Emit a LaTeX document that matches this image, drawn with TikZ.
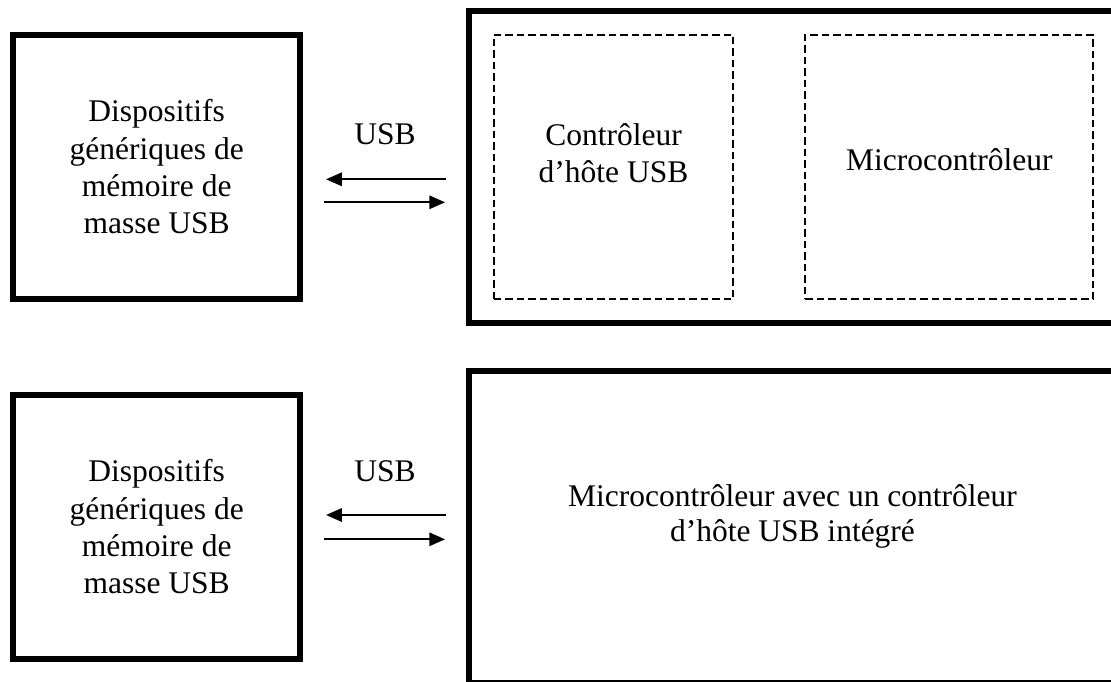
\documentclass[tikz,border=0pt]{standalone}
\usepackage{fontspec}
\setmainfont{Liberation Serif}
\usetikzlibrary{arrows.meta, positioning}

\begin{document}
\begin{tikzpicture}[
        x=1pt, y=-1pt,
        every node/.style={font=\fontsize{31.5pt}{37.3pt}\selectfont},
        device/.style={rectangle, draw, line width=6pt, minimum width=287.3pt, minimum height=263.4pt, align=center},
        host/.style={rectangle, draw, line width=6pt, minimum width=660pt, minimum height=312pt},
        block/.style={rectangle, draw, line width=2pt, dash pattern=on 7.5pt off 4pt, minimum height=264.5pt},
        arrow/.style={-{Triangle[length=15.7pt, width=13.3pt]}, line width=2pt}
    ]
    \clip (0,0) rectangle (1111,682);

    \node[device] (dev1) at (156.7,167) {Dispositifs\\génériques de\\mémoire de\\masse USB};
    \node[host] (host1) [right=162.7pt of dev1] {};
    \node[block, minimum width=239.6pt] (hc1) [right=26.7pt of host1.west] {};
    \node[block, minimum width=288pt] (mcu1) [right=70pt of hc1] {};
    \node[align=center] (hc1txt) at ([yshift=14pt]hc1.center) {Contrôleur\\d'hôte USB};
    \node[anchor=base] (mcu1txt) at ([yshift=-3pt]mcu1.center) {Microcontrôleur};
    \node[anchor=base] (usb1) at (385,145) {USB};

    \node[device] (dev2) [below=90.6pt of dev1] {Dispositifs\\génériques de\\mémoire de\\masse USB};
    \node[host] (host2) [right=162.7pt of dev2] {};
    \node[align=center, font=\fontsize{31.5pt}{34.3pt}\selectfont] (mcu2txt) at (792.5,516.5) {Microcontrôleur avec un contrôleur\\d'hôte USB intégré};
    \node[anchor=base] (usb2) at (385,481.7) {USB};

    \draw[arrow, shorten <=20pt, shorten >=22.7pt] ([yshift=-12.3pt]host1.west) -- ([yshift=-12.3pt]dev1.east);
    \draw[arrow, shorten <=21pt, shorten >=21pt] ([yshift=-35.3pt]dev1.east) -- ([yshift=-35.3pt]host1.west);
    \draw[arrow, shorten <=20pt, shorten >=22.7pt] ([yshift=12pt]host2.west) -- ([yshift=12pt]dev2.east);
    \draw[arrow, shorten <=21pt, shorten >=21pt] ([yshift=-12.3pt]dev2.east) -- ([yshift=-12.3pt]host2.west);
\end{tikzpicture}
\end{document}
